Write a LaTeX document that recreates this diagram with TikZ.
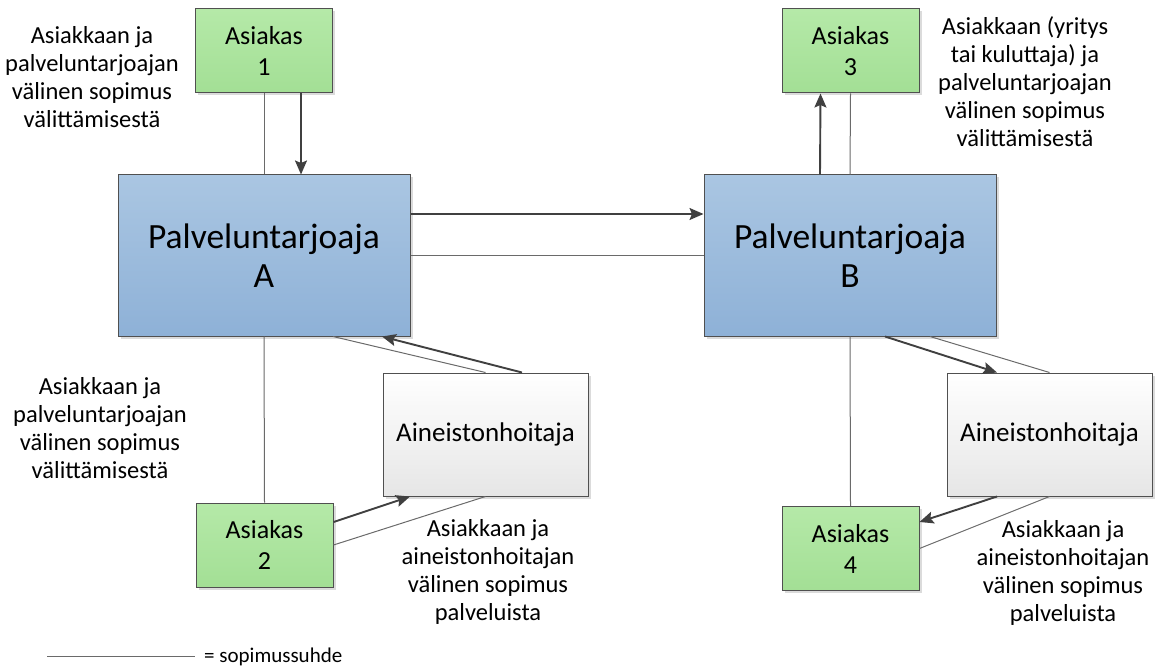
\documentclass[tikz,border=0pt]{standalone}
\usepackage{fontspec}
\setmainfont{Carlito}
\usetikzlibrary{arrows.meta,shadows}
\definecolor{boxline}{HTML}{505050}
\definecolor{arrowcol}{HTML}{404040}
\definecolor{linkcol}{HTML}{6A6A6A}
\definecolor{greentop}{HTML}{B5E9A8}
\definecolor{greenbot}{HTML}{A3DF95}
\definecolor{bluetop}{HTML}{AAC6E2}
\definecolor{bluebot}{HTML}{8EB1D7}
\definecolor{graybot}{HTML}{E6E6E6}
\tikzset{
  basebox/.style={draw=boxline, line width=1pt, align=center, inner sep=0pt,
    drop shadow={shadow xshift=2.5pt, shadow yshift=-2.5pt, fill=black!14, opacity=1}},
  customer/.style={basebox, minimum width=137pt, minimum height=84pt,
    top color=greentop, bottom color=greenbot,
    font=\fontsize{26}{31}\selectfont},
  provider/.style={basebox, minimum width=292pt, minimum height=161pt,
    top color=bluetop, bottom color=bluebot,
    font=\fontsize{35.5}{39}\selectfont},
  curator/.style={basebox, minimum width=205pt, minimum height=123pt,
    top color=white, bottom color=graybot,
    font=\fontsize{27}{31}\selectfont},
  note/.style={align=center, inner sep=0pt, font=\fontsize{24.5}{28}\selectfont},
  contract/.style={draw=linkcol, line width=1pt},
  flow/.style={draw=arrowcol, line width=1.9pt,
    -{Stealth[length=14pt,width=12pt,inset=2.5pt]}},
}
\begin{document}
\begin{tikzpicture}[x=1pt, y=-1pt]
\useasboundingbox (0,0) rectangle (1158,668);

% boxes
\node[customer] (a1) at (264,51) {Asiakas\\1};
\node[customer] (a3) at (850.5,51) {Asiakas\\3};
\node[customer] (a2) at (264.5,545) {Asiakas\\2};
\node[customer] (a4) at (850.5,548.5) {Asiakas\\4};
\node[provider] (pa) at (264,255.5) {Palveluntarjoaja\\A};
\node[provider] (pb) at (850,255.5) {Palveluntarjoaja\\B};
\node[curator] (h1) at (485.5,434.5) {Aineistonhoitaja};
\node[curator] (h2) at (1049.5,434.5) {Aineistonhoitaja};

% annotations
\node[note] (t1) at (92,77) {Asiakkaan ja\\palveluntarjoajan\\välinen sopimus\\välittämisestä};
\node[note] (t2) at (100,428) {Asiakkaan ja\\palveluntarjoajan\\välinen sopimus\\välittämisestä};
\node[note] (t3) at (1025,82) {Asiakkaan (yritys\\tai kuluttaja) ja\\palveluntarjoajan\\välinen sopimus\\välittämisestä};
\node[note] (t4) at (488,572) {Asiakkaan ja\\aineistonhoitajan\\välinen sopimus\\palveluista};
\node[note] (t5) at (1063,573) {Asiakkaan ja\\aineistonhoitajan\\välinen sopimus\\palveluista};

% contracts (thin lines)
\draw[contract] (a1.south) -- (pa.north);
\draw[contract] (a3.south) -- (pb.north);
\draw[contract] (pa.east) -- (pb.west);
\draw[contract] (pa.south) -- (a2.north);
\draw[contract] (pb.south) -- (a4.north);
\draw[contract] ([xshift=69pt]pa.south) -- (h1.north);
\draw[contract] (a2.east) -- (h1.south);
\draw[contract] ([xshift=80pt]pb.south) -- (h2.north);
\draw[contract] (h2.south) -- (a4.east);

% flows (arrows)
\draw[flow] ([xshift=37pt]a1.south) -- ([xshift=37pt]pa.north);
\draw[flow] ([xshift=-30pt]pb.north) -- ([xshift=-30pt]a3.south);
\draw[flow] ([yshift=41.5pt]pa.east) -- ([yshift=41.5pt]pb.west);
\draw[flow] ([xshift=36.5pt]h1.north) -- ([xshift=118pt]pa.south);
\draw[flow] ([yshift=23pt]a2.east) -- ([xshift=-75.5pt]h1.south);
\draw[flow] ([xshift=35pt]pb.south) -- ([xshift=-52.5pt]h2.north);
\draw[flow] ([xshift=-52.5pt]h2.south) -- ([yshift=26.5pt]a4.east);

% legend
\coordinate (l1) at (47,656);
\coordinate (l2) at (195,656);
\draw[contract] (l1) -- (l2);
\node[anchor=west, inner sep=0pt, font=\fontsize{21}{25}\selectfont] (leg) at (204,657) {= sopimussuhde};
\end{tikzpicture}
\end{document}
